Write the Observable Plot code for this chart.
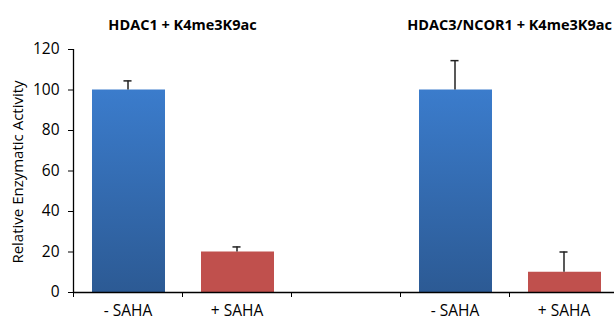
<!DOCTYPE html>
<html>
<head>
<meta charset="utf-8">
<script src="https://cdn.jsdelivr.net/npm/d3@7"></script>
<script src="https://cdn.jsdelivr.net/npm/@observablehq/plot@0.6"></script>
<style>
  html, body { margin: 0; padding: 0; background: #fff; }
  #chart svg { display: block; }
</style>
</head>
<body>
<div id="chart"></div>
<script>
// ---- data ----
const groups = ["HDAC1 + K4me3K9ac", "HDAC3/NCOR1 + K4me3K9ac"];
const conditions = ["- SAHA", "+ SAHA"];
const values = [[100, 20], [100, 10]];
const errors = [[4.5, 2.5], [14.5, 10]];
const yTicks = [0, 20, 40, 60, 80, 100, 120];
const yLabel = "Relative Enzymatic Activity";

// each group occupies 3 slots: two conditions plus an empty gap slot
const rows = [];
groups.forEach((g, gi) => conditions.forEach((c, ci) => {
  rows.push({group: g, cond: c, ci, slot: gi * 3 + ci, value: values[gi][ci], err: errors[gi][ci]});
}));
const titles = groups.map((g, gi) => ({label: g, pos: gi * 3 + 1}));
const nSlots = groups.length * 3 - 1;

const chart = Plot.plot({
  width: 614,
  height: 322,
  marginLeft: 73,
  marginRight: -4,
  marginTop: 49,
  marginBottom: 30,
  style: {fontFamily: "'Open Sans', sans-serif", fontSize: "15px", color: "#000", background: "#fff"},
  x: {type: "linear", domain: [0, nSlots], axis: null},
  y: {domain: [0, 120], axis: null},
  marks: [
    Plot.rectY(rows.filter(d => d.ci === 0), {x1: "slot", x2: d => d.slot + 1, y: "value", fill: "url(#blueGrad)", insetLeft: 19, insetRight: 17}),
    Plot.rectY(rows.filter(d => d.ci === 1), {x1: "slot", x2: d => d.slot + 1, y: "value", fill: "#C0504D", insetLeft: 19, insetRight: 17}),
    Plot.ruleX(rows, {x: d => d.slot + 0.5, y1: "value", y2: d => d.value + d.err, stroke: "#222", strokeWidth: 1.5}),
    Plot.ruleY(rows, {y: d => d.value + d.err, x1: d => d.slot + 0.5 - 0.037, x2: d => d.slot + 0.5 + 0.037, stroke: "#222", strokeWidth: 1.5}),
    Plot.axisY({ticks: yTicks, tickSize: 5, tickPadding: 9, label: null, fontSize: 15.5}),
    Plot.ruleX([0], {y1: 0, y2: 120, stroke: "#000", strokeWidth: 1.3}),
    Plot.axisX({ticks: d3.range(0, nSlots), tickFormat: () => "", tickSize: 5, label: null}),
    Plot.ruleY([0], {stroke: "#000", strokeWidth: 1.3}),
    Plot.text(rows, {x: d => d.slot + 0.5, text: "cond", frameAnchor: "bottom", dy: 23, fontSize: 15.5}),
    Plot.text(titles, {x: "pos", text: "label", frameAnchor: "top", dy: -30, fontSize: 14.5, fontWeight: "bold"}),
    Plot.text([yLabel], {frameAnchor: "left", textAnchor: "middle", rotate: -90, dx: -55, dy: 1, fontSize: 15})
  ]
});

d3.select(chart).insert("defs", ":first-child").html(
  '<linearGradient id="blueGrad" x1="0" y1="0" x2="0" y2="1">' +
  '<stop offset="0%" stop-color="#3B7CCC"/>' +
  '<stop offset="100%" stop-color="#2C5A94"/>' +
  '</linearGradient>'
);
document.getElementById("chart").appendChild(chart);
</script>
</body>
</html>
